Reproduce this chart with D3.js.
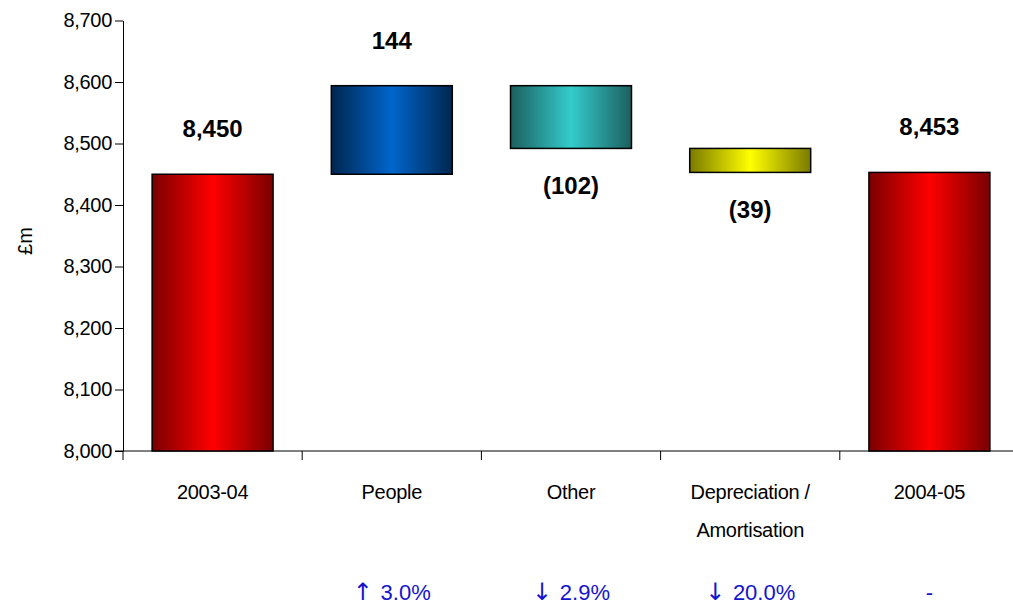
<!DOCTYPE html>
<html>
<head>
<meta charset="utf-8">
<script src="https://cdn.jsdelivr.net/npm/d3@7"></script>
<style>
  body { margin: 0; background: #fff; }
  svg text { font-family: "Liberation Sans", Arial, sans-serif; }
</style>
</head>
<body>
<svg id="svg" width="1013" height="608"></svg>
<script>
// data
var categories = ["2003-04", "People", "Other", "Depreciation / Amortisation", "2004-05"];
var catLines = [["2003-04"], ["People"], ["Other"], ["Depreciation /", "Amortisation"], ["2004-05"]];
var changes = [8450, 144, -102, -39, 8453];
var isTotal = [true, false, false, false, true];
var valueLabels = ["8,450", "144", "(102)", "(39)", "8,453"];
var pctArrows = ["", "\u2191", "\u2193", "\u2193", ""];
var pctValues = ["", "3.0%", "2.9%", "20.0%", "-"];
var yTicks = [8000, 8100, 8200, 8300, 8400, 8500, 8600, 8700];

var colours = [["#7a0000", "#ff0000"], ["#00264f", "#0066cc"], ["#1d5f5f", "#33cccc"], ["#7a7a00", "#ffff00"], ["#7a0000", "#ff0000"]];

// running waterfall
var run = 0;
var bars = changes.map(function(v, i) {
  var lo, hi;
  if (isTotal[i]) { lo = 8000; hi = v; run = v; }
  else { var s = run; run = run + v; lo = Math.min(s, run); hi = Math.max(s, run); }
  return {cat: categories[i], lo: lo, hi: hi, neg: !isTotal[i] && v < 0, i: i};
});

var svg = d3.select("#svg");
var x = d3.scaleBand().domain(categories).range([123, 1019]).padding(0);
var y = d3.scaleLinear().domain([8000, 8700]).range([451, 20.5]);
var bw = x.bandwidth() * 0.675;

// gradients
var defs = svg.append("defs");
colours.forEach(function(c, i) {
  var g = defs.append("linearGradient").attr("id", "g" + i)
    .attr("x1", "0%").attr("x2", "100%").attr("y1", "0%").attr("y2", "0%");
  g.append("stop").attr("offset", "0%").attr("stop-color", c[0]);
  g.append("stop").attr("offset", "50%").attr("stop-color", c[1]);
  g.append("stop").attr("offset", "100%").attr("stop-color", c[0]);
});

// y axis
var yAxis = d3.axisLeft(y).tickValues(yTicks).tickSize(8).tickSizeOuter(0)
  .tickFormat(d3.format(","));
var ya = svg.append("g").attr("transform", "translate(123,0)").call(yAxis);
ya.select(".domain").attr("stroke", "#000");
ya.selectAll(".tick line").attr("stroke", "#000");
ya.selectAll(".tick text").attr("font-size", "20px").attr("fill", "#000")
  .attr("font-family", "Liberation Sans, Arial, sans-serif").attr("letter-spacing", "-0.3px").attr("x", -11);

// x axis line + boundary ticks
svg.append("line").attr("x1", 115).attr("x2", 1013).attr("y1", y(8000)).attr("y2", y(8000)).attr("stroke", "#000");
svg.selectAll(".xtick").data(categories).enter().append("line")
  .attr("x1", function(d) { return x(d); }).attr("x2", function(d) { return x(d); })
  .attr("y1", y(8000)).attr("y2", y(8000) + 9).attr("stroke", "#000");

// bars
svg.selectAll("rect.bar").data(bars).enter().append("rect")
  .attr("class", "bar")
  .attr("x", function(d) { return x(d.cat) + (x.bandwidth() - bw) / 2; })
  .attr("width", bw)
  .attr("y", function(d) { return y(d.hi); })
  .attr("height", function(d) { return y(d.lo) - y(d.hi); })
  .attr("fill", function(d) { return "url(#g" + d.i + ")"; })
  .attr("stroke", "#000").attr("stroke-width", 1.5);

// value labels
svg.selectAll("text.val").data(bars).enter().append("text")
  .attr("class", "val")
  .attr("x", function(d) { return x(d.cat) + x.bandwidth() / 2; })
  .attr("y", function(d) { return d.neg ? y(d.lo) + 46 : y(d.hi) - 37; })
  .attr("text-anchor", "middle").attr("font-size", "24px").attr("font-weight", "bold")
  .text(function(d, i) { return valueLabels[i]; });

// category labels
var cl = svg.selectAll("text.cat").data(categories).enter().append("text")
  .attr("class", "cat")
  .attr("x", function(d) { return x(d) + x.bandwidth() / 2; })
  .attr("y", 499)
  .attr("text-anchor", "middle").attr("font-size", "20px").attr("letter-spacing", "-0.3px");
cl.selectAll("tspan").data(function(d, i) { return catLines[i]; }).enter().append("tspan")
  .attr("x", function() { return x(d3.select(this.parentNode).datum()) + x.bandwidth() / 2; })
  .attr("dy", function(d, j) { return j === 0 ? 0 : 38; })
  .text(function(d) { return d; });

// percentage labels
var pl = svg.selectAll("text.pct").data(categories).enter().append("text")
  .attr("class", "pct")
  .attr("x", function(d) { return x(d) + x.bandwidth() / 2; })
  .attr("y", 600)
  .attr("text-anchor", "middle").attr("font-size", "22px").attr("fill", "#1414cc");
pl.append("tspan").attr("font-family", "DejaVu Sans").attr("font-size", "24px")
  .text(function(d, i) { return pctArrows[i] ? pctArrows[i] + " " : ""; });
pl.append("tspan").text(function(d, i) { return pctValues[i]; });

// y title
svg.append("text").attr("transform", "translate(32,241) rotate(-90)")
  .attr("text-anchor", "middle").attr("font-size", "20px").text("\u00a3m");
</script>
</body>
</html>
